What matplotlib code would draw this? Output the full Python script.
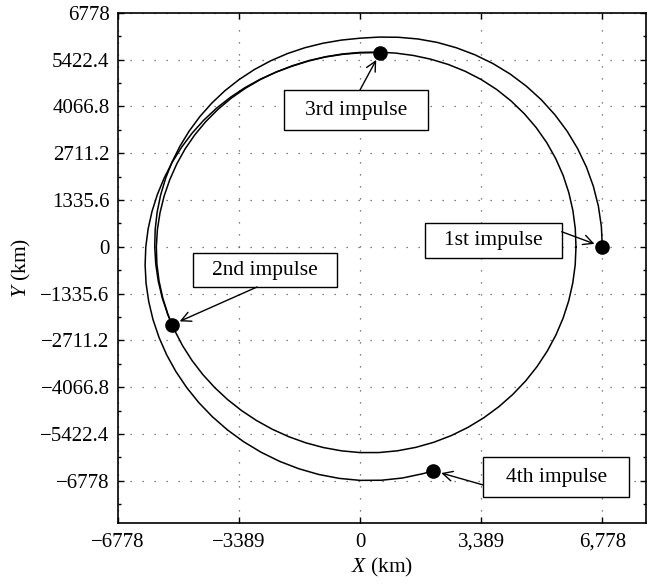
import numpy as np
import matplotlib
matplotlib.use("Agg")
import matplotlib.pyplot as plt
from matplotlib.patches import Rectangle
from matplotlib.ticker import MultipleLocator

plt.rcParams['font.family'] = ['Liberation Serif', 'DejaVu Serif']
plt.rcParams['mathtext.fontset'] = 'custom'
plt.rcParams['mathtext.it'] = 'Liberation Serif:italic'
plt.rcParams['mathtext.rm'] = 'Liberation Serif'

# ---- data (km) ----
# transfer arc from 1st impulse to 2nd impulse: polar angle (deg) and radius (km)
t1_theta = [0, 5, 10, 15, 20, 25, 30, 35, 40, 45, 50, 55, 60, 65, 70, 75, 80, 85,
            90, 95, 100, 105, 110, 115, 120, 125, 130, 135, 140, 145, 150, 155,
            160, 165, 170, 175, 180, 185, 190, 195, 200, 203.2]
t1_r = [6778, 6776, 6770, 6757, 6740, 6717, 6690, 6657, 6620, 6577, 6530, 6477,
        6420, 6360, 6298, 6230, 6160, 6095, 6040, 6008, 5985, 5968, 5953, 5939,
        5925, 5910, 5895, 5878, 5860, 5842, 5825, 5809, 5795, 5782, 5770, 5759,
        5750, 5743, 5738, 5734, 5731, 5730]

# closed inner orbit through 2nd and 3rd impulses
in_theta = list(range(0, 361, 5))
in_r = [6040, 6043, 6045, 6046, 6045, 6039, 6030, 6015, 5995, 5972, 5945, 5910,
        5870, 5826, 5780, 5736, 5695, 5659, 5628, 5605, 5588, 5579, 5575, 5580,
        5590, 5602, 5615, 5628, 5640, 5651, 5660, 5666, 5672, 5680, 5688, 5697,
        5705, 5711, 5716, 5721, 5726, 5731, 5737, 5744, 5752, 5762, 5775, 5790,
        5808, 5829, 5852, 5878, 5905, 5933, 5960, 5982, 6000, 6014, 6025, 6033,
        6038, 6041, 6043, 6044, 6045, 6045, 6045, 6045, 6044, 6043, 6042, 6041,
        6040]

# arc from 3rd impulse to 4th impulse
t3_theta = [84.3, 90, 95, 100, 105, 110, 115, 120, 125, 130, 135, 140, 145, 150,
            155, 160, 165, 170, 175, 180, 185, 190, 195, 200, 205, 210, 215, 220,
            225, 230, 235, 240, 245, 250, 255, 260, 265, 270, 275, 280, 285, 287.5]
t3_r = [5652, 5615, 5594, 5580, 5570, 5565, 5578, 5600, 5624, 5650, 5679, 5710,
        5740, 5770, 5802, 5835, 5874, 5915, 5957, 6000, 6042, 6085, 6127, 6170,
        6212, 6255, 6297, 6340, 6385, 6430, 6475, 6520, 6565, 6610, 6653, 6695,
        6733, 6765, 6787, 6800, 6802, 6801]

# impulse points
imp_x = [6778, -5266, 560, 2045]
imp_y = [0, -2258, 5624, -6486]
imp_labels = ['1st impulse', '2nd impulse', '3rd impulse', '4th impulse']

x_ticks = [-6778, -3389, 0, 3389, 6778]
x_ticklabels = ['\u22126778', '\u22123389', '0', '3,389', '6,778']
y_ticks = [6778, 5422.4, 4066.8, 2711.2, 1355.6, 0, -1355.6, -2711.2, -4066.8,
           -5422.4, -6778]
y_ticklabels = ['6778', '5422.4', '4066.8', '2711.2', '1335.6', '0', '\u22121335.6',
                '\u22122711.2', '\u22124066.8', '\u22125422.4', '\u22126778']

# ---- figure ----
fig = plt.figure(figsize=(6.53, 5.88), dpi=100)
ax = fig.add_axes([0.1807, 0.1105, 0.8086, 0.8679])
ax.set_xlim(-6778, 8000)
ax.set_ylim(-8000, 6778)


def polar_xy(theta, r):
    th = np.deg2rad(np.asarray(theta, dtype=float))
    r = np.asarray(r, dtype=float)
    return r * np.cos(th), r * np.sin(th)


for th, rr in [(t1_theta, t1_r), (in_theta, in_r), (t3_theta, t3_r)]:
    x, y = polar_xy(th, rr)
    ax.plot(x, y, color='k', lw=1.1, zorder=2, solid_joinstyle='round')

ax.plot(imp_x, imp_y, 'o', color='k', ms=9.5, zorder=6)

# annotation boxes (axes fraction): x0, x1, y0, y1 ; arrow start
boxes = [(0.5814, 0.8403, 0.5187, 0.5885), (0.1420, 0.4148, 0.4625, 0.5291),
         (0.3144, 0.5871, 0.7700, 0.8485), (0.6919, 0.9684, 0.0504, 0.1299)]
arrow_start = [(0.8403, 0.5708), (0.2633, 0.4625), (0.4583, 0.8485), (0.6919, 0.0745)]

for i, (x0, x1, y0, y1) in enumerate(boxes):
    ax.add_patch(Rectangle((x0, y0), x1 - x0, y1 - y0, transform=ax.transAxes,
                           facecolor='white', edgecolor='k', lw=1.0, zorder=4))
    ax.text((x0 + x1) / 2, (y0 + y1) / 2, imp_labels[i], transform=ax.transAxes,
            ha='center', va='center', fontsize=15.5, zorder=5)
    ax.annotate('', xy=(imp_x[i], imp_y[i]), xycoords='data',
                xytext=arrow_start[i], textcoords='axes fraction',
                arrowprops=dict(arrowstyle='->,head_length=0.7,head_width=0.35',
                                lw=1.0, color='k', shrinkA=0, shrinkB=6,
                                mutation_scale=10), zorder=5)

ax.set_xticks(x_ticks)
ax.set_xticklabels(x_ticklabels)
ax.set_yticks(y_ticks)
ax.set_yticklabels(y_ticklabels)
ax.yaxis.set_minor_locator(MultipleLocator(677.8))

ax.tick_params(which='both', direction='in', top=True, right=True,
               labelsize=15, color='k')
ax.tick_params(which='major', length=4, width=1.0)
ax.tick_params(axis='x', which='major', pad=7)
ax.tick_params(axis='y', which='major', pad=6)
ax.tick_params(which='minor', length=2.5, width=1.0)

ax.grid(True, which='major', linestyle=(0, (1, 8.6)), linewidth=0.9, color='0.35')
ax.set_axisbelow(True)
for s in ax.spines.values():
    s.set_linewidth(1.2)

ax.set_xlabel('$X$ (km)', fontsize=15.5, labelpad=3)
ax.set_ylabel('$Y$ (km)', fontsize=15.5, labelpad=5)

fig.savefig('out.png', dpi=100)
